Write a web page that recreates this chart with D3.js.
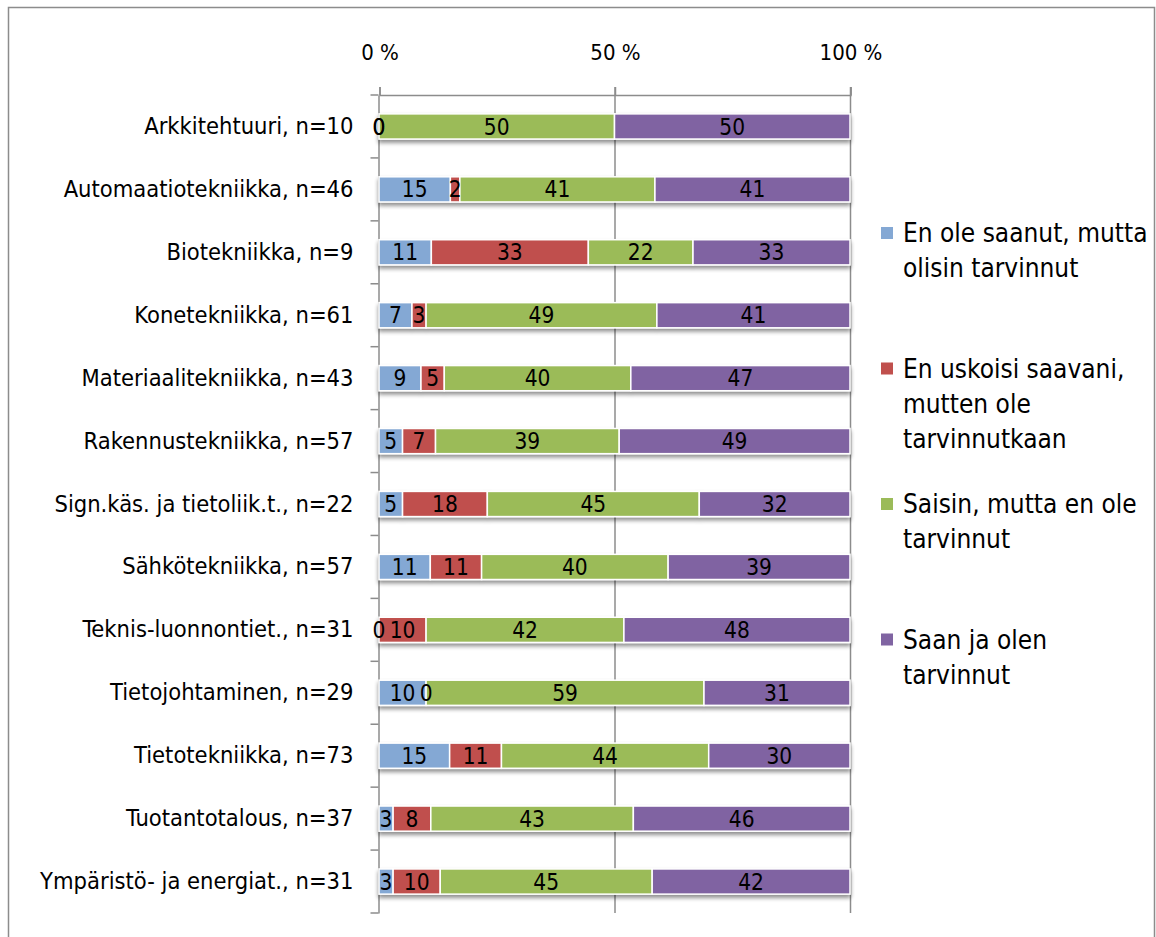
<!DOCTYPE html>
<html>
<head>
<meta charset="utf-8">
<script src="https://cdn.jsdelivr.net/npm/d3@7"></script>
<style>
  body { margin: 0; background: #fff; }
  svg text { font-family: 'DejaVu Sans Condensed', 'DejaVu Sans', sans-serif; font-stretch: condensed; fill: #000; }
</style>
</head>
<body>
<svg id="chart" width="1156" height="937"></svg>
<script>
const categories = [
  'Arkkitehtuuri, n=10', 'Automaatiotekniikka, n=46', 'Biotekniikka, n=9',
  'Konetekniikka, n=61', 'Materiaalitekniikka, n=43', 'Rakennustekniikka, n=57',
  'Sign.käs. ja tietoliik.t., n=22', 'Sähkötekniikka, n=57', 'Teknis-luonnontiet., n=31',
  'Tietojohtaminen, n=29', 'Tietotekniikka, n=73', 'Tuotantotalous, n=37',
  'Ympäristö- ja energiat., n=31'
];
const legendLines = [
  ['En ole saanut, mutta', 'olisin tarvinnut'],
  ['En uskoisi saavani,', 'mutten ole', 'tarvinnutkaan'],
  ['Saisin, mutta en ole', 'tarvinnut'],
  ['Saan ja olen', 'tarvinnut']
];
const eiSaanutTarvitsisi = [0, 15, 11, 7, 9, 5, 5, 11, 0, 10, 15, 3, 3];
const eiSaaEiTarvitse   = [0, 2, 33, 3, 5, 7, 18, 11, 10, 0, 11, 8, 10];
const saisiEiTarvitse   = [50, 41, 22, 49, 40, 39, 45, 40, 42, 59, 44, 43, 45];
const saaJaTarvitsee    = [50, 41, 33, 41, 47, 49, 32, 39, 48, 31, 30, 46, 42];
const colors = ['#84a8d4', '#c0504d', '#9bbb59', '#8064a2'];
const tickLabels = ['0 %', '50 %', '100 %'];

const rows = categories.map((c, i) => ({
  cat: c,
  s0: eiSaanutTarvitsisi[i], s1: eiSaaEiTarvitse[i],
  s2: saisiEiTarvitse[i], s3: saaJaTarvitsee[i]
}));

const svg = d3.select('#chart');
const x0 = 379, x1 = 850, yTop = 95, yBot = 913;

// outer frame
svg.append('path')
  .attr('d', `M8.5,937 V7.5 H1154.5 V937`)
  .attr('fill', 'none').attr('stroke', '#8c8c8c').attr('stroke-width', 1.5);

const defs = svg.append('defs');
const f = defs.append('filter').attr('id', 'shadow')
  .attr('x', '-5%').attr('y', '-20%').attr('width', '110%').attr('height', '160%');
f.append('feGaussianBlur').attr('in', 'SourceAlpha').attr('stdDeviation', 2);
f.append('feOffset').attr('dx', 0).attr('dy', 3).attr('result', 'b');
f.append('feComponentTransfer').append('feFuncA').attr('type', 'linear').attr('slope', 0.45);
const m = f.append('feMerge');
m.append('feMergeNode');
m.append('feMergeNode').attr('in', 'SourceGraphic');

const x = d3.scaleLinear().domain([0, 1]).range([x0, x1]);
const y = d3.scaleBand().domain(categories).range([yTop, yBot]).paddingInner(0.6).paddingOuter(0.3);
const yb = d3.scaleBand().domain(categories).range([yTop, yBot]);

// gridlines
svg.append('g').selectAll('line')
  .data([0.5, 1]).enter().append('line')
  .attr('x1', d => x(d) + 0.5).attr('x2', d => x(d) + 0.5)
  .attr('y1', yTop - 8).attr('y2', yBot)
  .attr('stroke', '#8c8c8c').attr('stroke-width', 1.5);

// top axis
const axTop = svg.append('g').attr('transform', `translate(0.5,${yTop})`)
  .call(d3.axisTop(x).tickValues([0, 0.5, 1]).tickSize(8).tickPadding(27)
    .tickFormat((d, i) => tickLabels[i]));
axTop.attr('font-family', null);
axTop.select('.domain').attr('stroke', '#8c8c8c').attr('stroke-width', 1.5);
axTop.selectAll('.tick line').attr('stroke', '#8c8c8c').attr('stroke-width', 1.5);
axTop.selectAll('.tick text').style('font-size', '22px');

// left axis
const axLeft = svg.append('g').attr('transform', `translate(${x0 - 0.5},0)`)
  .call(d3.axisLeft(yb).tickSize(0).tickPadding(25));
axLeft.attr('font-family', null);
axLeft.select('.domain').attr('stroke', '#8c8c8c').attr('stroke-width', 1.5);
axLeft.selectAll('.tick text').style('font-size', '23.5px');
axLeft.append('g').selectAll('line')
  .data(d3.range(categories.length + 1)).enter().append('line')
  .attr('x1', -8).attr('x2', 0)
  .attr('y1', d => yTop + d * yb.step()).attr('y2', d => yTop + d * yb.step())
  .attr('stroke', '#8c8c8c').attr('stroke-width', 1.5);

// bars
const stack = d3.stack().keys(['s0', 's1', 's2', 's3']).offset(d3.stackOffsetExpand);
const layers = stack(rows);

const barG = svg.append('g').attr('filter', 'url(#shadow)');
layers.forEach((layer, li) => {
  barG.append('g').selectAll('rect')
    .data(layer).enter().append('rect')
    .attr('x', d => x(d[0]))
    .attr('y', d => y(d.data.cat))
    .attr('width', d => x(d[1]) - x(d[0]))
    .attr('height', y.bandwidth())
    .attr('fill', colors[li])
    .attr('stroke', '#fff').attr('stroke-width', 1.5);
});

// value labels
const labG = svg.append('g');
layers.forEach((layer, li) => {
  labG.append('g').selectAll('text')
    .data(layer).enter().append('text')
    .attr('x', d => (x(d[0]) + x(d[1])) / 2)
    .attr('y', d => y(d.data.cat) + y.bandwidth() / 2)
    .attr('dy', '0.36em')
    .attr('text-anchor', 'middle')
    .style('font-size', '22.5px')
    .text(d => d.data[layer.key]);
});

// legend
const lg = svg.append('g').attr('transform', 'translate(881,0)');
legendLines.forEach((lines, i) => {
  const top = 233 + i * 135.5;
  lg.append('rect').attr('x', 0).attr('y', top - 6).attr('width', 12).attr('height', 12)
    .attr('fill', colors[i]);
  lg.append('text').attr('x', 22).attr('y', top)
    .style('font-size', '26px')
    .selectAll('tspan').data(lines).enter().append('tspan')
    .attr('x', 22).attr('dy', (d, j) => j === 0 ? '0.36em' : 35)
    .text(d => d);
});
</script>
</body>
</html>
